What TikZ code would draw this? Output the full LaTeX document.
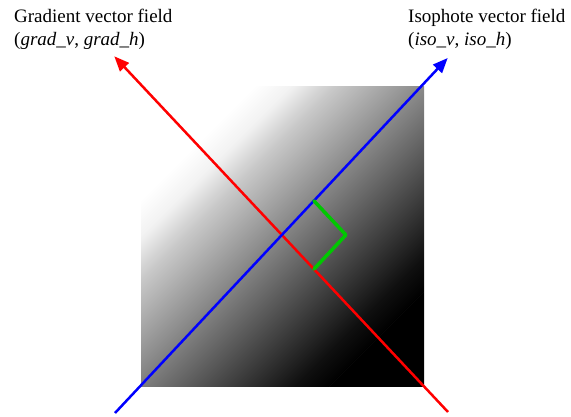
\documentclass[tikz,border=0pt]{standalone}
\usepackage{fontspec}
\setmainfont{Liberation Serif}
\usetikzlibrary{arrows.meta,calc}
\definecolor{gradred}{RGB}{255,0,0}
\definecolor{isoblue}{RGB}{0,0,255}
\definecolor{rightgreen}{RGB}{0,200,0}
\pgfdeclarehorizontalshading{diagramp}{100bp}{%
  color(0bp)=(white); color(25bp)=(white);
  color(29.9bp)=(black!5); color(35.5bp)=(black!21);
  color(63.7bp)=(black!80); color(70.3bp)=(black!94);
  color(75bp)=(black); color(100bp)=(black)}
\tikzset{
  vecline/.style={line width=2.5pt, -{Triangle[length=15pt,width=12pt]}},
  marker/.style={draw=rightgreen, line width=3.5pt, line cap=round, line join=round},
  lbl/.style={anchor=north west, inner sep=0pt, align=left, font=\fontsize{19}{23}\selectfont}
}
\begin{document}
\begin{tikzpicture}[x=1pt,y=-1pt]
\useasboundingbox (0,0) rectangle (571,416);
% image square
\coordinate (sqa) at (141,86);
\coordinate (sqb) at (424,386);
\coordinate (sqc) at (282.5,236);
\begin{scope}
  \clip (sqa) rectangle (sqb);
  \begin{scope}[transform canvas={rotate around={-45:(sqc)}}]
    \fill[white] ($(sqc)+(-420,-420)$) rectangle ($(sqc)+(-125.5,420)$);
    \shade[shading=diagramp] ($(sqc)+(-126,-420)$) rectangle ($(sqc)+(140,420)$);
    \fill[black] ($(sqc)+(139.5,-420)$) rectangle ($(sqc)+(420,420)$);
  \end{scope}
\end{scope}
% vector lines
\coordinate (gs) at (448,412);
\coordinate (gt) at (114.3,56.3);
\coordinate (is) at (115,413);
\coordinate (it) at (447.7,58);
\draw[vecline, draw=gradred, fill=gradred] (gs) -- (gt);
\draw[vecline, draw=isoblue, fill=isoblue] (is) -- (it);
% right-angle marker
\coordinate (X) at (intersection of gs--gt and is--it);
\coordinate (mb) at ($(X)!46.8pt!(it)$);
\coordinate (mr) at ($(X)!46.8pt!(gs)$);
\coordinate (mc) at ($(mb)+(mr)-(X)$);
\draw[marker] (mb) -- (mc) -- (mr);
% labels
\node[lbl] (gradlabel) at (14,8.5) {Gradient vector field\\(\textit{grad\_v}, \textit{grad\_h})};
\node[lbl] (isolabel) at (408,8.5) {Isophote vector field\\(\textit{iso\_v}, \textit{iso\_h})};
\end{tikzpicture}
\end{document}
